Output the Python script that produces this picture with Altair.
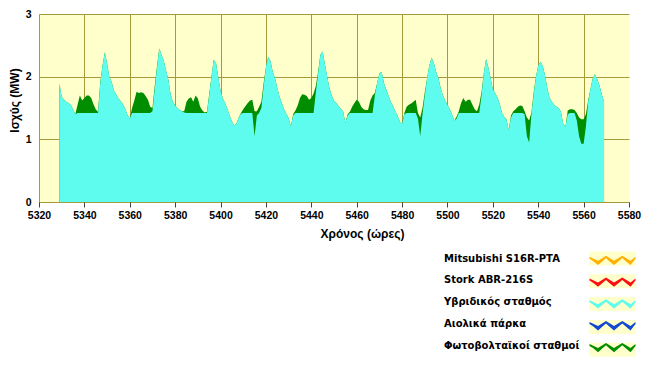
import altair as alt
import pandas as pd

# ---------------- data ----------------
hours = list(range(5329, 5570))

hybrid = [
    1.89, 1.68, 1.63, 1.60, 1.58, 1.55, 1.48, 1.40, 1.42, 1.42,
    1.42, 1.42, 1.42, 1.42, 1.42, 1.42, 1.42, 1.42, 1.89, 2.18,
    2.39, 2.21, 2.00, 1.92, 1.78, 1.72, 1.65, 1.61, 1.56, 1.49,
    1.39, 1.33, 1.42, 1.42, 1.42, 1.42, 1.42, 1.42, 1.42, 1.42,
    1.42, 1.45, 1.80, 2.15, 2.45, 2.35, 2.25, 2.10, 1.95, 1.72,
    1.60, 1.54, 1.50, 1.47, 1.45, 1.43, 1.42, 1.42, 1.42, 1.42,
    1.42, 1.42, 1.42, 1.42, 1.42, 1.42, 1.70, 2.00, 2.27, 2.22,
    1.99, 1.78, 1.65, 1.58, 1.49, 1.38, 1.29, 1.22, 1.25, 1.35,
    1.41, 1.42, 1.42, 1.42, 1.42, 1.42, 1.05, 1.38, 1.42, 1.50,
    1.85, 2.15, 2.32, 2.25, 2.08, 1.98, 1.82, 1.68, 1.58, 1.48,
    1.41, 1.34, 1.21, 1.38, 1.42, 1.42, 1.42, 1.42, 1.42, 1.42,
    1.42, 1.42, 1.42, 1.75, 2.05, 2.35, 2.40, 2.20, 2.00, 1.82,
    1.70, 1.62, 1.58, 1.53, 1.49, 1.45, 1.26, 1.38, 1.42, 1.42,
    1.42, 1.42, 1.42, 1.42, 1.42, 1.42, 1.42, 1.42, 1.42, 1.70,
    1.90, 2.05, 2.08, 1.90, 1.80, 1.70, 1.60, 1.53, 1.45, 1.38,
    1.28, 1.24, 1.40, 1.42, 1.42, 1.42, 1.42, 1.42, 1.33, 1.05,
    1.40, 1.70, 1.97, 2.18, 2.30, 2.22, 2.08, 1.98, 1.82, 1.70,
    1.62, 1.55, 1.48, 1.40, 1.30, 1.33, 1.42, 1.42, 1.42, 1.42,
    1.42, 1.42, 1.42, 1.42, 1.42, 1.42, 1.70, 2.05, 2.28, 2.15,
    1.98, 1.80, 1.74, 1.67, 1.57, 1.43, 1.36, 1.32, 1.15, 1.35,
    1.42, 1.42, 1.42, 1.42, 1.42, 1.40, 1.05, 0.95, 1.40, 1.72,
    2.00, 2.18, 2.24, 2.17, 2.02, 1.82, 1.66, 1.60, 1.55, 1.52,
    1.50, 1.44, 1.25, 1.20, 1.40, 1.42, 1.42, 1.42, 1.30, 1.05,
    0.93, 0.93, 1.20, 1.60, 1.80, 1.97, 2.04, 1.96, 1.86, 1.72,
    1.60,
]

total = [
    1.89, 1.68, 1.63, 1.60, 1.58, 1.55, 1.48, 1.40, 1.55, 1.70,
    1.62, 1.66, 1.70, 1.70, 1.66, 1.56, 1.48, 1.44, 1.91, 2.18,
    2.39, 2.21, 2.00, 1.92, 1.78, 1.72, 1.65, 1.61, 1.56, 1.49,
    1.39, 1.33, 1.50, 1.62, 1.76, 1.74, 1.75, 1.74, 1.69, 1.63,
    1.52, 1.50, 1.85, 2.17, 2.45, 2.35, 2.25, 2.10, 1.95, 1.72,
    1.60, 1.54, 1.50, 1.47, 1.45, 1.45, 1.60, 1.65, 1.67, 1.60,
    1.70, 1.65, 1.52, 1.46, 1.43, 1.44, 1.72, 2.00, 2.27, 2.22,
    1.99, 1.78, 1.65, 1.58, 1.49, 1.38, 1.29, 1.22, 1.25, 1.35,
    1.42, 1.48, 1.53, 1.58, 1.62, 1.63, 1.45, 1.45, 1.52, 1.60,
    1.90, 2.15, 2.32, 2.25, 2.08, 1.98, 1.82, 1.68, 1.58, 1.48,
    1.41, 1.34, 1.21, 1.40, 1.46, 1.54, 1.66, 1.72, 1.71, 1.69,
    1.63, 1.66, 1.73, 1.85, 2.08, 2.35, 2.40, 2.20, 2.00, 1.82,
    1.70, 1.62, 1.58, 1.53, 1.49, 1.45, 1.26, 1.40, 1.44, 1.52,
    1.58, 1.63, 1.60, 1.52, 1.48, 1.47, 1.47, 1.62, 1.70, 1.74,
    1.90, 2.05, 2.08, 1.90, 1.80, 1.70, 1.60, 1.53, 1.45, 1.38,
    1.28, 1.24, 1.42, 1.52, 1.55, 1.57, 1.60, 1.63, 1.42, 1.35,
    1.50, 1.75, 1.97, 2.18, 2.30, 2.22, 2.08, 1.98, 1.82, 1.70,
    1.62, 1.55, 1.48, 1.40, 1.30, 1.36, 1.45, 1.58, 1.66, 1.60,
    1.63, 1.63, 1.55, 1.48, 1.45, 1.55, 1.75, 2.05, 2.28, 2.15,
    1.98, 1.80, 1.74, 1.67, 1.57, 1.43, 1.36, 1.32, 1.15, 1.38,
    1.45, 1.48, 1.52, 1.54, 1.53, 1.45, 1.35, 1.30, 1.43, 1.75,
    2.00, 2.18, 2.24, 2.17, 2.02, 1.82, 1.66, 1.60, 1.55, 1.52,
    1.50, 1.44, 1.25, 1.20, 1.46, 1.48, 1.48, 1.47, 1.42, 1.35,
    1.32, 1.32, 1.40, 1.62, 1.80, 1.97, 2.04, 1.96, 1.86, 1.72,
    1.60,
]

categories = [
    "Mitsubishi S16R-PTA",
    "Stork ABR-216S",
    "Υβριδικός σταθμός",
    "Αιολικά πάρκα",
    "Φωτοβολταϊκοί σταθμοί",
]
colors = ["#FFB000", "#FF1010", "#5DFCEE", "#1048D0", "#008E00"]
box_keys = ["b1", "b2", "b3", "b4", "b5"]

x_ticks = [5320, 5340, 5360, 5380, 5400, 5420, 5440, 5460, 5480, 5500, 5520, 5540, 5560, 5580]
y_ticks = [0, 1, 2, 3]

assert len(hours) == len(hybrid) == len(total)

n = len(hours)
df = pd.DataFrame({
    "hour": hours + hours,
    "value": total + hybrid,
    "series": [categories[4]] * n + [categories[2]] * n,
})
box_df = pd.DataFrame({"box": box_keys})

# ---------------- styling ----------------
FONT = "Liberation Sans"
LEG_FONT = "DejaVu Sans"
GRID = "#A69A3A"
PLOT_BG = "#FFFFCC"

ZIG = ("M-2.3,-0.18 L-1.45,0.22 L-0.65,-0.28 L0.15,0.22 L0.98,-0.28 L1.8,0.22 L2.3,-0.18 "
       "L2.3,0.02 L1.8,0.65 L1.3,0.24 L0.98,-0.04 L0.65,0.24 L0.15,0.65 L-0.35,0.24 "
       "L-0.65,-0.04 L-0.97,0.24 L-1.45,0.65 L-1.95,0.24 L-2.3,0.02 Z")
BOX = "M-2.35,-0.7 L2.35,-0.7 L2.35,0.7 L-2.35,0.7 Z"

LEG_X = 563
LEG_Y = 234
common_leg = dict(
    title=None, orient="none", legendX=LEG_X, legendY=LEG_Y, direction="vertical",
    symbolSize=400, symbolStrokeWidth=1, symbolOpacity=1, labelOffset={"expr": "-179"},
    labelFont=LEG_FONT, labelFontSize=10, labelFontWeight="bold", labelColor="black",
    labelLimit=300, rowPadding=2.8, padding=0,
)

zig_legend = alt.Legend(symbolType=ZIG, symbolStrokeColor="transparent", zindex=2, **common_leg)
box_legend = alt.Legend(symbolFillColor=PLOT_BG, symbolStrokeColor="#9A9A9A",
                        labelExpr="''", zindex=1, **common_leg)

x_enc = alt.X(
    "hour:Q",
    scale=alt.Scale(domain=[5320, 5580], nice=False, zero=False),
    axis=alt.Axis(
        values=x_ticks, format="d", title="Χρόνος (ώρες)",
        titleX=323, titleY=31, titleAlign="center", titleBaseline="middle",
        titleFont=FONT, titleFontSize=12, titleFontWeight="bold", titleColor="black",
        labelFont=FONT, labelFontSize=10.5, labelFontWeight="bold", labelColor="black",
        labelPadding=3, labelFlush=False, labelOverlap=False,
        tickSize=5, tickColor="#444444", domain=False,
        grid=True, gridColor=GRID, gridWidth=1,
        gridOpacity={"condition": {"test": "datum.value == 5580", "value": 0}, "value": 1},
    ),
)
y_enc = alt.Y(
    "value:Q",
    scale=alt.Scale(domain=[0, 3], nice=False),
    axis=alt.Axis(
        values=y_ticks, format="d", title="Ισχύς (MW)",
        titleX=-25, titleY=86, titleAngle=270, titleAlign="center", titleBaseline="middle",
        titleFont=FONT, titleFontSize=12, titleFontWeight="bold", titleColor="black",
        labelFont=FONT, labelFontSize=10.5, labelFontWeight="bold", labelColor="black",
        labelPadding=8, labelFlush=False, ticks=False, domain=False,
        grid=True, gridColor=GRID, gridWidth=1,
    ),
)

color_enc = alt.Color("series:N", scale=alt.Scale(domain=categories, range=colors), legend=zig_legend)

base = alt.Chart(df)
pv_layer = base.transform_filter(alt.datum.series == categories[4]).mark_area(
    interpolate="linear", opacity=1).encode(x=x_enc, y=y_enc, color=color_enc)
hy_layer = base.transform_filter(alt.datum.series == categories[2]).mark_area(
    interpolate="linear", opacity=1).encode(x=x_enc, y=y_enc, color=color_enc)

box_layer = alt.Chart(box_df).transform_filter("false").mark_point(
    filled=True, color=PLOT_BG, stroke="#9A9A9A").encode(
    x=alt.value(0), y=alt.value(0),
    shape=alt.Shape("box:N", scale=alt.Scale(domain=box_keys, range=[BOX] * 5), legend=box_legend),
)

chart = alt.layer(pv_layer, hy_layer, box_layer).properties(
    width=590, height=188,
    autosize=alt.AutoSizeParams(type="none"),
    padding={"left": 31, "top": 6, "right": 13, "bottom": 160},
    background="white",
).configure_view(fill=PLOT_BG, strokeWidth=0)

chart.save("out.html", embed_options={"renderer": "svg", "actions": False})
